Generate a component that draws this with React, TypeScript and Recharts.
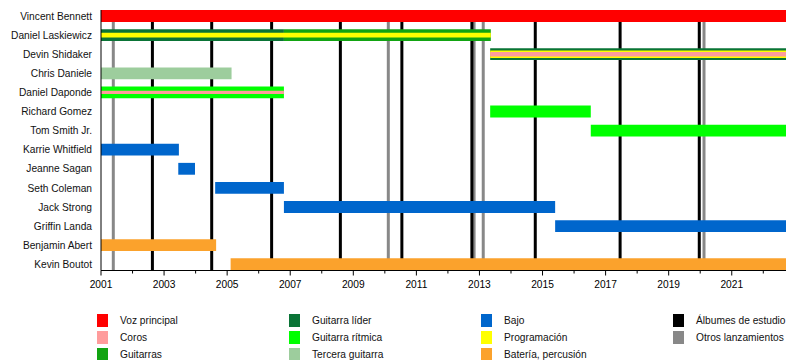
import { ComposedChart, XAxis, YAxis, ReferenceArea, ReferenceLine } from "recharts"

const members = [
  "Vincent Bennett",
  "Daniel Laskiewicz",
  "Devin Shidaker",
  "Chris Daniele",
  "Daniel Daponde",
  "Richard Gomez",
  "Tom Smith Jr.",
  "Karrie Whitfield",
  "Jeanne Sagan",
  "Seth Coleman",
  "Jack Strong",
  "Griffin Landa",
  "Benjamin Abert",
  "Kevin Boutot",
]

const START = 2001
const END = 2022.72

// role names (legend order) and their colours
const roles = [
  "Voz principal",
  "Coros",
  "Guitarras",
  "Guitarra líder",
  "Guitarra rítmica",
  "Tercera guitarra",
  "Bajo",
  "Programación",
  "Batería, percusión",
  "Álbumes de estudio",
  "Otros lanzamientos",
]

const roleColors: Record<string, string> = {
  "Voz principal": "#ff0000",
  "Coros": "#ff9c9c",
  "Guitarras": "#12a412",
  "Guitarra líder": "#0a7436",
  "Guitarra rítmica": "#00ff00",
  "Tercera guitarra": "#9dcd9d",
  "Bajo": "#0066cc",
  "Programación": "#ffff00",
  "Batería, percusión": "#fba22c",
  "Álbumes de estudio": "#000000",
  "Otros lanzamientos": "#888888",
}

// bar thickness, as a share of one row
const thickness: Record<string, number> = { full: 0.62, mid: 0.39, narrow: 0.24, thin: 0.17 }

interface Stint {
  member: string
  role: string
  start: number
  end: number
  size: string
}

const stints: Stint[] = [
  { member: "Vincent Bennett", role: "Voz principal", start: START, end: END, size: "full" },
  { member: "Daniel Laskiewicz", role: "Guitarra líder", start: START, end: 2006.8, size: "full" },
  { member: "Daniel Laskiewicz", role: "Guitarras", start: 2006.8, end: 2013.36, size: "full" },
  { member: "Daniel Laskiewicz", role: "Programación", start: START, end: 2013.36, size: "narrow" },
  { member: "Devin Shidaker", role: "Guitarra líder", start: 2013.34, end: END, size: "full" },
  { member: "Devin Shidaker", role: "Programación", start: 2013.34, end: END, size: "mid" },
  { member: "Devin Shidaker", role: "Coros", start: 2013.34, end: END, size: "narrow" },
  { member: "Chris Daniele", role: "Tercera guitarra", start: START, end: 2005.14, size: "full" },
  { member: "Daniel Daponde", role: "Guitarra rítmica", start: START, end: 2006.8, size: "full" },
  { member: "Daniel Daponde", role: "Coros", start: START, end: 2006.8, size: "thin" },
  { member: "Richard Gomez", role: "Guitarra rítmica", start: 2013.34, end: 2016.53, size: "full" },
  { member: "Tom Smith Jr.", role: "Guitarra rítmica", start: 2016.53, end: END, size: "full" },
  { member: "Karrie Whitfield", role: "Bajo", start: START, end: 2003.47, size: "full" },
  { member: "Jeanne Sagan", role: "Bajo", start: 2003.45, end: 2003.98, size: "full" },
  { member: "Seth Coleman", role: "Bajo", start: 2004.62, end: 2006.8, size: "full" },
  { member: "Jack Strong", role: "Bajo", start: 2006.8, end: 2015.4, size: "full" },
  { member: "Griffin Landa", role: "Bajo", start: 2015.4, end: END, size: "full" },
  { member: "Benjamin Abert", role: "Batería, percusión", start: START, end: 2004.65, size: "full" },
  { member: "Kevin Boutot", role: "Batería, percusión", start: 2005.11, end: END, size: "full" },
]

const studioAlbums = [2002.63, 2004.51, 2006.41, 2008.59, 2010.54, 2012.76, 2014.77, 2017.46, 2019.97]
const otherReleases = [2001.39, 2010.11, 2012.83, 2013.12, 2020.12]

const yearTicks = Array.from({ length: 22 }, (_, i) => START + i)
const rowTicks = members.map((_, i) => i)

const FONT = "'Liberation Sans', Arial, Helvetica, sans-serif"
const FONT_SIZE = 10.2

const YearTick = (props: any) => {
  const { x, y, payload } = props
  const major = (payload.value - START) % 2 === 0
  return (
    <g>
      <line x1={x} x2={x} y1={y} y2={y + (major ? 5 : 3)} stroke="#000" strokeWidth={1} />
      {major && (
        <text x={x} y={y + 17} textAnchor="middle" fontSize={FONT_SIZE} fill="#000" fontFamily={FONT}>
          {payload.value}
        </text>
      )}
    </g>
  )
}

const MemberTick = (props: any) => {
  const { x, y, payload } = props
  return (
    <text x={x} y={y} dy="0.36em" textAnchor="end" fontSize={FONT_SIZE} fill="#111" fontFamily={FONT}>
      {members[payload.value]}
    </text>
  )
}

const Legend = () => (
  <div style={{ position: "absolute", left: 0, top: 0, width: 800, height: 360, fontFamily: FONT, fontSize: FONT_SIZE, color: "#111" }}>
    {roles.map((r, i) => {
      const col = Math.floor(i / 3)
      const row = i % 3
      return (
        <div key={r} style={{ position: "absolute", left: 97 + col * 192, top: 313.5 + row * 17.3, height: 13, display: "flex", alignItems: "center" }}>
          <div style={{ width: 11, height: 13, background: roleColors[r] }} />
          <span style={{ marginLeft: 12, whiteSpace: "nowrap" }}>{r}</span>
        </div>
      )
    })}
  </div>
)

export default function App() {
  return (
    <div style={{ position: "absolute", left: 0, top: 0, width: 800, height: 360, background: "#fff" }}>
      <ComposedChart width={800} height={300} data={[]} margin={{ top: 10, right: 14, left: 0, bottom: 0 }}>
        <XAxis
          type="number"
          dataKey="x"
          domain={[START, END]}
          allowDataOverflow
          ticks={yearTicks}
          interval={0}
          tickSize={0}
          tickMargin={0}
          tickLine={false}
          tick={<YearTick />}
          height={29.5}
          stroke="#000"
        />
        <YAxis
          type="number"
          dataKey="y"
          domain={[-0.314, 13.325]}
          allowDataOverflow
          reversed
          ticks={rowTicks}
          interval={0}
          width={101}
          tickSize={0}
          tickMargin={9}
          tickLine={false}
          tick={<MemberTick />}
          stroke="#000"
        />
        {otherReleases.map((x) => (
          <ReferenceLine key={"o" + x} x={x} stroke={roleColors["Otros lanzamientos"]} strokeWidth={3} zIndex={50} />
        ))}
        {studioAlbums.map((x) => (
          <ReferenceLine key={"s" + x} x={x} stroke={roleColors["Álbumes de estudio"]} strokeWidth={3} zIndex={60} />
        ))}
        {stints.map((s, i) => {
          const row = members.indexOf(s.member)
          const h = thickness[s.size] / 2
          return (
            <ReferenceArea
              key={i}
              x1={s.start}
              x2={s.end}
              y1={row - h}
              y2={row + h}
              fill={roleColors[s.role]}
              fillOpacity={1}
              stroke="none"
              ifOverflow="visible"
              zIndex={150 + i}
            />
          )
        })}
      </ComposedChart>
      <Legend />
    </div>
  )
}
